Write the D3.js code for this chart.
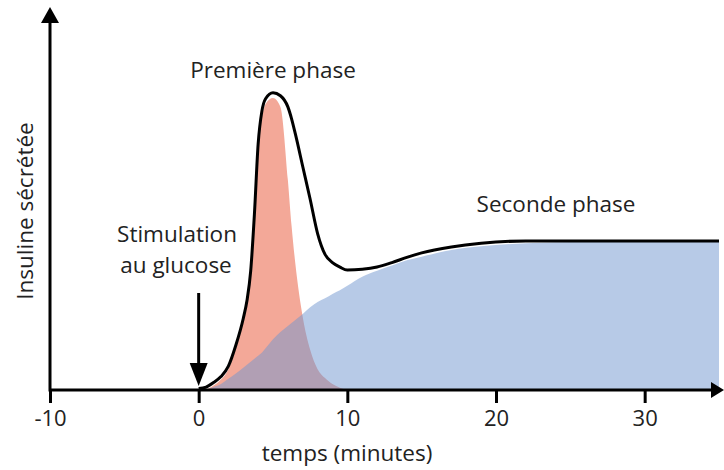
<!DOCTYPE html>
<html lang="fr">
<head>
<meta charset="UTF-8">
<title>Sécrétion d'insuline</title>
<script src="https://d3js.org/d3.v7.min.js"></script>
<style>
    body { margin: 0; background: #fff; }
    svg text { font-family: "Open Sans", Lato, sans-serif; fill: #222; }
</style>
</head>
<body>
<div id="chart"></div>
<script>
// temps (minutes) et valeurs (plateau de la seconde phase = 1)
var temps    = [-10, 0, 0.5, 1, 1.5, 2, 2.5, 3, 3.25, 3.5, 3.75, 4, 4.25, 4.5, 5, 5.5, 6, 6.25, 6.5, 7, 7.5, 8, 8.5, 9, 9.5, 10, 11, 12, 13, 14, 15, 17, 19, 22, 26, 30, 35];
var premiere = [0, 0, 0.005, 0.03, 0.07, 0.14, 0.28, 0.46, 0.58, 0.78, 1.15, 1.62, 1.83, 1.92, 1.96, 1.90, 1.41, 1.10, 0.85, 0.49, 0.27, 0.14, 0.08, 0.04, 0.015, 0, 0, 0, 0, 0, 0, 0, 0, 0, 0, 0, 0];
var seconde  = [0, 0, 0.003, 0.02, 0.04, 0.075, 0.11, 0.15, 0.17, 0.19, 0.21, 0.23, 0.25, 0.28, 0.34, 0.39, 0.43, 0.45, 0.47, 0.51, 0.555, 0.59, 0.615, 0.645, 0.67, 0.70, 0.76, 0.80, 0.835, 0.87, 0.895, 0.94, 0.965, 0.985, 0.995, 1, 1];
var total    = [0, 0.01, 0.02, 0.05, 0.09, 0.16, 0.30, 0.48, 0.60, 0.80, 1.18, 1.65, 1.87, 1.955, 1.995, 1.975, 1.90, 1.82, 1.72, 1.50, 1.28, 1.05, 0.91, 0.855, 0.825, 0.805, 0.81, 0.825, 0.855, 0.89, 0.92, 0.96, 0.985, 1, 1, 1, 1];
var ticks    = [-10, 0, 10, 20, 30];

var width = 724, height = 470;
var fs = 22.5;

var svg = d3.select("#chart").append("svg")
    .attr("width", width)
    .attr("height", height);

var x = d3.scaleLinear().domain([-10, 35]).range([50, 719]);
var y = d3.scaleLinear().domain([0, 1]).range([390, 241]);

var rows = temps.map(function(t, i) {
    return { t: t, p1: premiere[i], p2: seconde[i], tot: total[i] };
});

// aire première phase (rouge)
svg.append("path")
    .datum(rows.filter(function(d) { return d.t >= 0 && d.t <= 10; }))
    .attr("fill", "#f3a898")
    .attr("d", d3.area().curve(d3.curveMonotoneX)
        .x(function(d) { return x(d.t); })
        .y0(y(0))
        .y1(function(d) { return y(d.p1); }));

// aire seconde phase (bleu, transparent)
svg.append("path")
    .datum(rows.filter(function(d) { return d.t >= 0; }))
    .attr("fill", "rgb(112,150,208)")
    .attr("fill-opacity", 0.5)
    .attr("d", d3.area().curve(d3.curveMonotoneX)
        .x(function(d) { return x(d.t); })
        .y0(y(0))
        .y1(function(d) { return y(d.p2); }));

// sécrétion totale
svg.append("path")
    .datum(rows.filter(function(d) { return d.t >= 0; }))
    .attr("fill", "none")
    .attr("stroke", "#000")
    .attr("stroke-width", 3)
    .attr("stroke-linejoin", "round")
    .attr("d", d3.line().curve(d3.curveMonotoneX)
        .x(function(d) { return x(d.t); })
        .y(function(d) { return y(d.tot); }));

// axes avec flèches
var x0 = x(-10), y0 = y(0);
svg.append("line")
    .attr("x1", x0).attr("y1", y0)
    .attr("x2", 712).attr("y2", y0)
    .attr("stroke", "#000").attr("stroke-width", 3);
svg.append("path")
    .attr("d", "M711," + (y0 - 8) + "L724," + y0 + "L711," + (y0 + 8) + "Z")
    .attr("fill", "#000");
svg.append("line")
    .attr("x1", x0).attr("y1", y0 + 1.5)
    .attr("x2", x0).attr("y2", 20)
    .attr("stroke", "#000").attr("stroke-width", 3);
svg.append("path")
    .attr("d", "M" + (x0 - 9) + ",23L" + x0 + ",7L" + (x0 + 9) + ",23Z")
    .attr("fill", "#000");

var xAxis = svg.append("g")
    .attr("transform", "translate(0," + y0 + ")")
    .call(d3.axisBottom(x).tickValues(ticks).tickSize(13).tickPadding(7)
        .tickFormat(function(d) { return String(d); }));
xAxis.select(".domain").remove();
xAxis.selectAll(".tick line").attr("stroke", "#000").attr("stroke-width", 3);
xAxis.selectAll(".tick text")
    .attr("font-size", 22)
    .style("font-family", "'Open Sans', Lato, sans-serif")
    .attr("fill", "#222");

// titres des axes
svg.append("text")
    .attr("x", 347).attr("y", 461)
    .attr("text-anchor", "middle")
    .attr("font-size", fs)
    .text("temps (minutes)");

svg.append("text")
    .attr("transform", "translate(33,211) rotate(-90)")
    .attr("text-anchor", "middle")
    .attr("font-size", fs)
    .text("Insuline sécrétée");

// annotations
svg.append("text")
    .attr("x", 273).attr("y", 78)
    .attr("text-anchor", "middle")
    .attr("font-size", fs)
    .text("Première phase");

svg.append("text")
    .attr("x", 556).attr("y", 212)
    .attr("text-anchor", "middle")
    .attr("font-size", fs)
    .text("Seconde phase");

svg.append("text")
    .attr("x", 177).attr("y", 242)
    .attr("text-anchor", "middle")
    .attr("font-size", fs)
    .text("Stimulation");

svg.append("text")
    .attr("x", 176).attr("y", 273)
    .attr("text-anchor", "middle")
    .attr("font-size", fs)
    .text("au glucose");

// flèche de stimulation à t = 0
svg.append("line")
    .attr("x1", x(0)).attr("y1", 293)
    .attr("x2", x(0)).attr("y2", 366)
    .attr("stroke", "#000").attr("stroke-width", 3);
svg.append("path")
    .attr("d", "M" + (x(0) - 9) + ",363L" + x(0) + ",386L" + (x(0) + 9) + ",363Z")
    .attr("fill", "#000");
</script>
</body>
</html>
